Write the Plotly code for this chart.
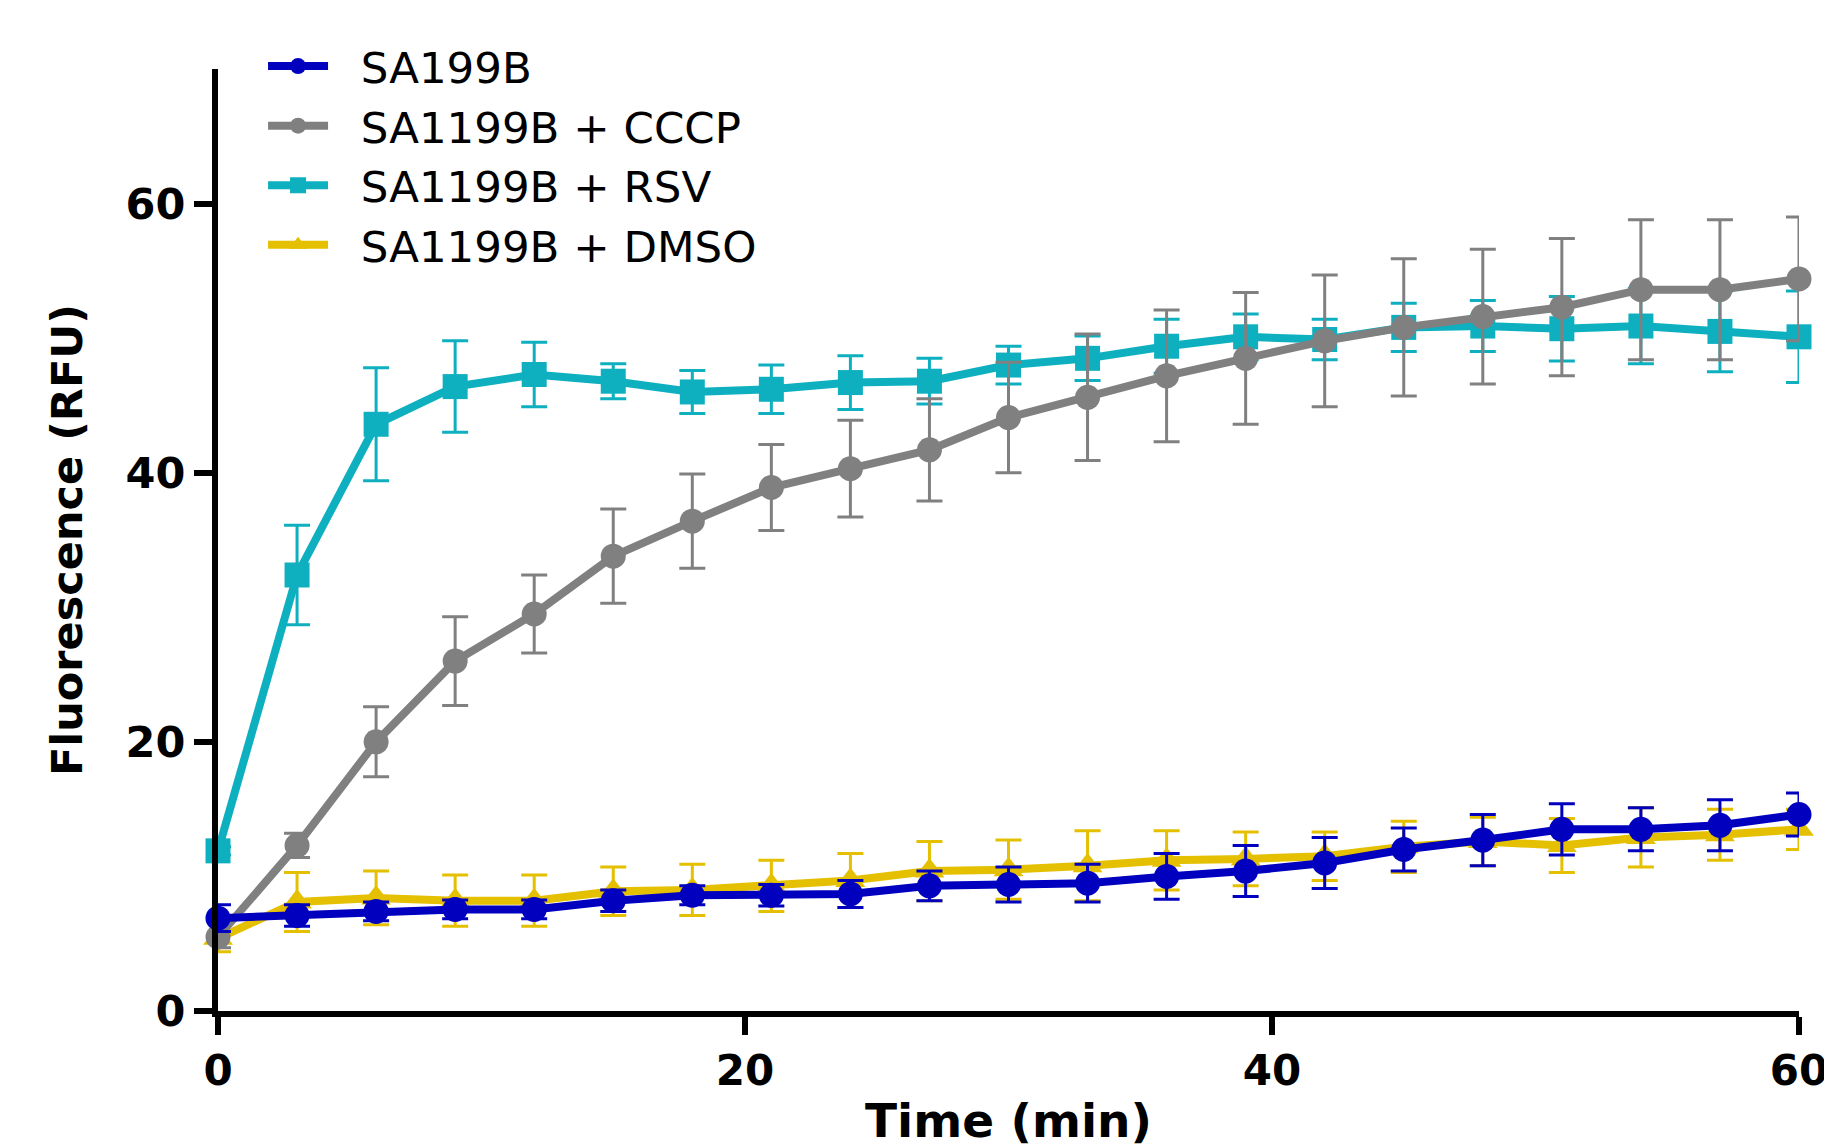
import plotly.graph_objects as go

time_min = [0, 3, 6, 9, 12, 15, 18, 21, 24, 27, 30, 33, 36, 39, 42, 45, 48, 51, 54, 57, 60]

sa199b = [6.9, 7.1, 7.4, 7.55, 7.55, 8.2, 8.6, 8.6, 8.7, 9.3, 9.4, 9.5, 10.0, 10.4, 11.0, 12.0, 12.7, 13.5, 13.5, 13.8, 14.6]
sa199b_err = [1.0, 0.8, 0.7, 0.7, 0.7, 0.8, 0.7, 0.8, 1.0, 1.1, 1.3, 1.4, 1.7, 1.9, 1.9, 1.6, 1.9, 1.9, 1.6, 1.9, 1.6]

cccp = [5.5, 12.3, 20.0, 26.0, 29.5, 33.8, 36.4, 38.9, 40.3, 41.7, 44.1, 45.6, 47.2, 48.5, 49.8, 50.8, 51.6, 52.3, 53.6, 53.6, 54.4]
cccp_err = [0.8, 0.9, 2.6, 3.3, 2.9, 3.5, 3.5, 3.2, 3.6, 3.8, 4.1, 4.7, 4.9, 4.9, 4.9, 5.1, 5.0, 5.1, 5.2, 5.2, 4.6]

rsv = [11.9, 32.4, 43.6, 46.4, 47.3, 46.8, 46.0, 46.2, 46.7, 46.8, 48.0, 48.5, 49.4, 50.1, 49.9, 50.8, 50.9, 50.7, 50.9, 50.5, 50.1]
rsv_err = [0.3, 3.7, 4.2, 3.4, 2.4, 1.3, 1.6, 1.8, 2.0, 1.7, 1.4, 1.65, 2.0, 1.7, 1.5, 1.8, 1.9, 2.4, 2.8, 3.0, 3.4]

dmso = [5.4, 8.1, 8.4, 8.2, 8.2, 8.9, 9.0, 9.3, 9.7, 10.4, 10.5, 10.8, 11.2, 11.3, 11.5, 12.2, 12.6, 12.3, 12.9, 13.1, 13.5]
dmso_err = [1.0, 2.2, 2.0, 1.9, 1.9, 1.8, 1.9, 1.9, 2.0, 2.2, 2.2, 2.6, 2.2, 2.0, 1.8, 1.9, 1.8, 2.0, 2.2, 1.9, 1.5]

names = ["SA199B", "SA1199B + CCCP", "SA1199B + RSV", "SA1199B + DMSO"]
colors = ["#0000BE", "#808080", "#0EB0C0", "#E4C000"]
symbols = ["circle", "circle", "square", "triangle-up"]
values = [sa199b, cccp, rsv, dmso]
errors = [sa199b_err, cccp_err, rsv_err, dmso_err]

FONT = "DejaVu Sans, sans-serif"

fig = go.Figure()
# draw order: DMSO, RSV, CCCP, SA199B (legend reversed)
for i in [3, 2, 1, 0]:
    fig.add_trace(go.Scatter(
        x=time_min, y=values[i], name="\u00a0\u00a0" + names[i], mode="lines+markers",
        line=dict(color=colors[i], width=8),
        marker=dict(color=colors[i], symbol=symbols[i], size=25 if symbols[i] != "triangle-up" else 26),
        error_y=dict(type="data", array=errors[i], visible=True, color=colors[i], thickness=3, width=13),
        cliponaxis=False,
    ))

fig.update_layout(
    width=1832, height=1146,
    paper_bgcolor="white", plot_bgcolor="white",
    margin=dict(l=210, r=41, t=61, b=143),
    showlegend=True,
    legend=dict(x=0.0285, y=1.040, xanchor="left", yanchor="top", traceorder="reversed",
                font=dict(family=FONT, size=43.5, color="black"),
                bgcolor="rgba(0,0,0,0)", itemwidth=60, tracegroupgap=0),
    font=dict(family=FONT, color="black"),
)
fig.update_xaxes(
    range=[0, 60], tickvals=[0, 20, 40, 60], ticktext=["0", "20", "40", "60"],
    showgrid=False, zeroline=False, showline=True, linecolor="black", linewidth=6,
    ticks="outside", ticklen=18, tickwidth=6, tickcolor="black",
    tickfont=dict(family=FONT, size=42, color="black", weight="bold"),
    title=dict(text="<b>Time (min)</b>", font=dict(family=FONT, size=47, color="black"), standoff=12),
)
fig.update_yaxes(
    range=[0, 70], tickvals=[0, 20, 40, 60], ticktext=["0", "20", "40", "60"],
    showgrid=False, zeroline=False, showline=True, linecolor="black", linewidth=6,
    ticks="outside", ticklen=18, tickwidth=6, tickcolor="black",
    tickfont=dict(family=FONT, size=43, color="black", weight="bold"),
    title=dict(text="<b>Fluorescence (RFU)</b>", font=dict(family=FONT, size=43, color="black"), standoff=32),
)

fig.write_html("out.html")
